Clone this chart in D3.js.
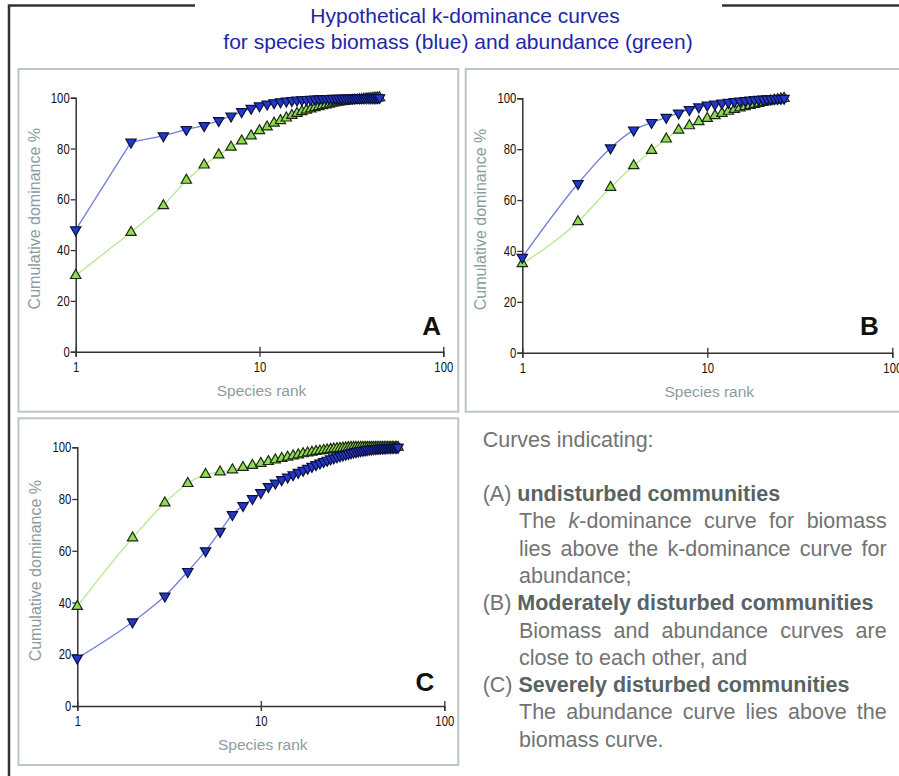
<!DOCTYPE html>
<html>
<head>
<meta charset="utf-8">
<script src="https://cdn.jsdelivr.net/npm/d3@7"></script>
<style>
  body { margin: 0; background: #fff; }
  svg { display: block; }
</style>
</head>
<body>
<div id="chart"></div>
<script>
// cumulative dominance % by species rank (rank = index + 1)
const biomassA = [48, 82.5, 85, 87.5, 89, 91, 92.8, 94.5, 95.8, 96.8,
  97.5, 98, 98.4, 98.7, 98.9, 99.1, 99.2, 99.3, 99.4, 99.5,
  99.55, 99.6, 99.65, 99.7, 99.72, 99.75, 99.78, 99.8, 99.82, 99.84,
  99.86, 99.87, 99.88, 99.9, 99.91, 99.92, 99.93, 99.94, 99.95, 99.96,
  99.97, 99.98, 99.99, 100, 100];
const abundanceA = [30, 47, 57.5, 67.5, 73.5, 77.5, 80.5, 83, 85, 87,
  88.5, 90, 91, 92, 93, 93.8, 94.5, 95.1, 95.6, 96.1,
  96.5, 96.9, 97.2, 97.5, 97.8, 98, 98.2, 98.4, 98.55, 98.7,
  98.8, 98.9, 99, 99.1, 99.2, 99.3, 99.4, 99.5, 99.6, 99.65,
  99.7, 99.8, 99.85, 99.9, 100];

const biomassB = [37.5, 66.5, 80.5, 87.5, 90.5, 92.5, 94.2, 95.6, 96.6, 97.3,
  97.7, 98.1, 98.4, 98.7, 98.9, 99.1, 99.3, 99.45, 99.55, 99.65,
  99.75, 99.8, 99.85, 99.9, 99.95, 100];
const abundanceB = [35, 51.5, 65, 73.5, 79.5, 84, 87.5, 89.2, 90.8, 92.1,
  93.2, 94.1, 94.9, 95.6, 96.2, 96.7, 97.2, 97.6, 98, 98.4,
  98.7, 99, 99.3, 99.5, 99.8, 100];

const biomassC = [18.5, 32.5, 42.5, 52, 60, 67.5, 74, 77.5, 80.2, 82.5,
  84.8, 86.2, 87.5, 88.5, 89.4, 90.3, 91.1, 91.9, 92.6, 93.3,
  93.9, 94.5, 95, 95.5, 95.9, 96.3, 96.7, 97, 97.3, 97.6,
  97.85, 98.1, 98.3, 98.5, 98.7, 98.85, 99, 99.1, 99.2, 99.3,
  99.4, 99.5, 99.55, 99.6, 99.65, 99.7, 99.75, 99.8, 99.85, 99.88,
  99.91, 99.94, 99.96, 99.98, 99.99, 100];
const abundanceC = [38.5, 65, 78.5, 86, 89.5, 90.5, 91.3, 92.2, 93, 93.8,
  94.5, 95.1, 95.7, 96.2, 96.7, 97.1, 97.5, 97.8, 98.1, 98.4,
  98.6, 98.8, 99, 99.2, 99.35, 99.5, 99.6, 99.7, 99.8, 99.9,
  100, 100, 100, 100, 100, 100, 100, 100, 100, 100,
  100, 100, 100, 100, 100, 100, 100, 100, 100, 100,
  100, 100, 100, 100, 100, 100];

const yTicks = [0, 20, 40, 60, 80, 100];
const xTicks = [1, 10, 100];

const titleLines = ["Hypothetical k-dominance curves",
  "for species biomass (blue) and abundance (green)"];

// runs: [text, style]  n = normal, b = bold, i = italic
const noteLines = [
  { runs: [["Curves indicating:", "n"]] },
  null,
  { runs: [["(A) ", "n"], ["undisturbed communities", "b"]] },
  { runs: [["The ", "n"], ["k", "i"], ["-dominance curve for biomass", "n"]], indent: true, justify: true },
  { runs: [["lies above the k-dominance curve for", "n"]], indent: true, justify: true },
  { runs: [["abundance;", "n"]], indent: true },
  { runs: [["(B) ", "n"], ["Moderately disturbed communities", "b"]] },
  { runs: [["Biomass and abundance curves are", "n"]], indent: true, justify: true },
  { runs: [["close to each other, and", "n"]], indent: true },
  { runs: [["(C) ", "n"], ["Severely disturbed communities", "b"]] },
  { runs: [["The abundance curve lies above the", "n"]], indent: true, justify: true },
  { runs: [["biomass curve.", "n"]], indent: true }
];

const W = 899, H = 776;
const blue = "#2238c8", green = "#8fdc52";
const blueLine = "#6f7fdc", greenLine = "#b2e88e";
const squeeze = 0.78; // tick labels are tall and narrow

const svg = d3.select("#chart").append("svg")
  .attr("width", W)
  .attr("height", H)
  .style("font-family", "'Liberation Sans', Arial, sans-serif");

// outer frame, broken at the top for the title
svg.append("path")
  .attr("d", `M195,5.5 H9 V${H}`)
  .attr("fill", "none")
  .attr("stroke", "#333")
  .attr("stroke-width", 2.5);
svg.append("line")
  .attr("x1", 722).attr("x2", W)
  .attr("y1", 5.5).attr("y2", 5.5)
  .attr("stroke", "#333")
  .attr("stroke-width", 2.5);

svg.selectAll(".title")
  .data(titleLines)
  .join("text")
  .attr("class", "title")
  .attr("x", (d, i) => i ? 458 : 465)
  .attr("y", (d, i) => 23 + i * 26)
  .attr("text-anchor", "middle")
  .attr("font-size", "21px")
  .attr("fill", "#2226a6")
  .text(d => d);

const panels = [
  { letter: "A", biomass: biomassA, abundance: abundanceA, box: [18.5, 69, 458.3, 411.7],
    x0: 75.7, x1: 443.3, y0: 351.7, y1: 97.7, curve: d3.curveLinear, letterAt: [431.7, 335] },
  { letter: "B", biomass: biomassB, abundance: abundanceB, box: [465.7, 69, 910, 411.7],
    x0: 522.3, x1: 892.3, y0: 352.7, y1: 98.3, curve: d3.curveMonotoneX, letterAt: [869.3, 335] },
  { letter: "C", biomass: biomassC, abundance: abundanceC, box: [18.5, 418.3, 458.3, 765],
    x0: 77.3, x1: 444.3, y0: 706, y1: 447.3, curve: d3.curveMonotoneX, letterAt: [425, 691] }
];

panels.forEach(p => {
  const g = svg.append("g");

  g.append("rect")
    .attr("x", p.box[0]).attr("y", p.box[1])
    .attr("width", p.box[2] - p.box[0])
    .attr("height", p.box[3] - p.box[1])
    .attr("fill", "none")
    .attr("stroke", "#bcc6c6")
    .attr("stroke-width", 2);

  const x = d3.scaleLog().domain([1, 100]).range([p.x0, p.x1]);
  const y = d3.scaleLinear().domain([0, 100]).range([p.y0, p.y1]);

  // y axis
  g.append("g")
    .attr("transform", `translate(${p.x0},0)`)
    .call(d3.axisLeft(y).tickValues(yTicks).tickSizeOuter(0).tickSize(5))
    .call(a => a.select(".domain").attr("stroke", "#333").attr("stroke-width", 1.5))
    .call(a => a.selectAll(".tick line").attr("stroke", "#333").attr("stroke-width", 1.3))
    .call(a => a.selectAll(".tick text")
      .attr("x", -6 / squeeze)
      .attr("transform", `scale(${squeeze},1)`)
      .attr("fill", "#111")
      .attr("font-size", "14.5px"));

  // x axis, ticks crossing the axis line
  g.append("g")
    .attr("transform", `translate(0,${p.y0})`)
    .call(d3.axisBottom(x).tickValues(xTicks).tickFormat(d3.format("d")).tickSizeOuter(0).tickSize(5).tickPadding(5))
    .call(a => a.select(".domain").attr("stroke", "#333").attr("stroke-width", 1.5))
    .call(a => a.selectAll(".tick line").attr("y1", -5).attr("stroke", "#333").attr("stroke-width", 1.3))
    .call(a => a.selectAll(".tick text")
      .attr("transform", `scale(${squeeze},1)`)
      .attr("fill", "#111")
      .attr("font-size", "14.5px"));

  g.append("text")
    .attr("transform", `translate(${p.x0 - 36},${(p.y0 + p.y1) / 2 - 6}) rotate(-90)`)
    .attr("text-anchor", "middle")
    .attr("font-size", "16px")
    .attr("fill", "#8d9c9c")
    .text("Cumulative dominance %");

  g.append("text")
    .attr("x", (p.x0 + p.x1) / 2 + 2)
    .attr("y", p.y0 + 44)
    .attr("text-anchor", "middle")
    .attr("font-size", "15.5px")
    .attr("fill", "#8d9c9c")
    .text("Species rank");

  g.append("text")
    .attr("x", p.letterAt[0])
    .attr("y", p.letterAt[1])
    .attr("text-anchor", "middle")
    .attr("font-size", "26px")
    .attr("font-weight", "bold")
    .attr("fill", "#111")
    .text(p.letter);

  const line = d3.line()
    .x((d, i) => x(i + 1))
    .y(d => y(d))
    .curve(p.curve);

  g.append("path")
    .datum(p.abundance)
    .attr("fill", "none")
    .attr("stroke", greenLine)
    .attr("stroke-width", 1.3)
    .attr("d", line);

  g.append("path")
    .datum(p.biomass)
    .attr("fill", "none")
    .attr("stroke", blueLine)
    .attr("stroke-width", 1.3)
    .attr("d", line);

  const tri = d3.symbol().type(d3.symbolTriangle).size(46);

  g.append("g").selectAll("path")
    .data(p.abundance)
    .join("path")
    .attr("d", tri)
    .attr("transform", (d, i) => `translate(${x(i + 1)},${y(d)})`)
    .attr("fill", green)
    .attr("stroke", "#1a2a10")
    .attr("stroke-width", 1.2);

  g.append("g").selectAll("path")
    .data(p.biomass)
    .join("path")
    .attr("d", tri)
    .attr("transform", (d, i) => `translate(${x(i + 1)},${y(d)}) rotate(180)`)
    .attr("fill", blue)
    .attr("stroke", "#0c1040")
    .attr("stroke-width", 1.2);
});

// explanatory notes
const noteX = 482.7, indentX = 519, rightEdge = 886.7;
const lineTop = 446.7, lineStep = 27.3;

noteLines.forEach((ln, i) => {
  if (!ln) return;
  const t = svg.append("text")
    .attr("x", ln.indent ? indentX : noteX)
    .attr("y", i === 0 ? lineTop : 501 + (i - 2) * lineStep)
    .attr("font-size", "21.5px")
    .attr("fill", "#737373");
  ln.runs.forEach(([s, st]) => {
    t.append("tspan")
      .attr("font-weight", st === "b" ? "bold" : null)
      .attr("font-style", st === "i" ? "italic" : null)
      .attr("fill", st === "b" ? "#586464" : null)
      .text(s);
  });
  if (ln.justify) {
    const natural = t.node().getComputedTextLength();
    const spaces = ln.runs.map(r => r[0]).join("").split(" ").length - 1;
    const extra = (rightEdge - indentX - natural) / spaces;
    t.attr("word-spacing", extra);
  }
});
</script>
</body>
</html>
